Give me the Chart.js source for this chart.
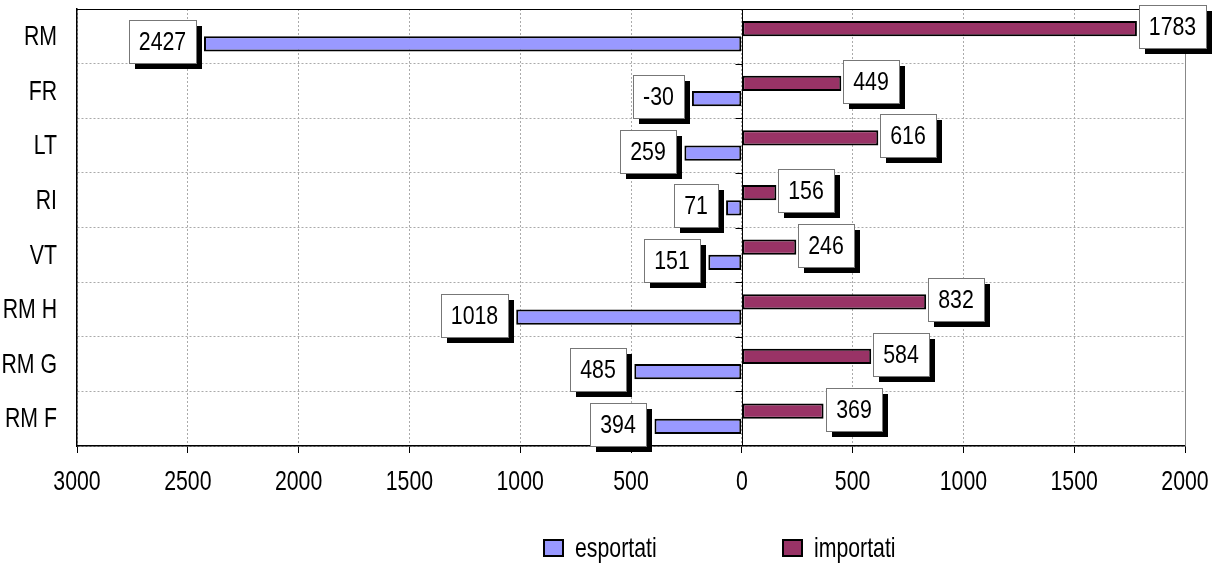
<!DOCTYPE html>
<html>
<head>
<meta charset="utf-8">
<script src="https://cdn.jsdelivr.net/npm/chart.js"></script>
<style>
  html, body { margin: 0; padding: 0; background: #fff; }
  #wrap { width: 1218px; height: 565px; }
</style>
</head>
<body>
<div id="wrap"><canvas id="barChart" width="1218" height="565"></canvas></div>
<script>
const categories = ['RM', 'FR', 'LT', 'RI', 'VT', 'RM H', 'RM G', 'RM F'];
const esportati = [-2427, -225, -259, -71, -151, -1018, -485, -394];
const esportatiLabels = ['2427', '-30', '259', '71', '151', '1018', '485', '394'];
const importati = [1783, 449, 616, 156, 246, 832, 584, 369];
const importatiLabels = ['1783', '449', '616', '156', '246', '832', '584', '369'];
const xMin = -3000, xMax = 2000, xStep = 500;

const FONT = "'Liberation Sans', Arial, sans-serif";

// niente Arial Narrow installato: stringo il testo a mano
function narrowText(ctx, txt, x, y, align, sx) {
  ctx.save();
  ctx.translate(x, y);
  ctx.scale(sx, 1);
  ctx.textAlign = align;
  ctx.fillText(txt, 0, 0);
  ctx.restore();
}

// etichette con riquadro bianco e ombra nera
const boxLabels = {
  id: 'boxLabels',
  beforeDatasetsDraw(chart) {
    const ctx = chart.ctx, a = chart.chartArea;
    const xs = chart.scales.x, ys = chart.scales.y;
    const x0 = Math.round(xs.getPixelForValue(0)) + 0.5;
    ctx.save();
    ctx.strokeStyle = '#000';
    ctx.lineWidth = 1;
    ctx.beginPath();
    ctx.moveTo(x0, a.top); ctx.lineTo(x0, a.bottom);
    for (let i = 0; i < categories.length; i++) {
      const y = Math.round(ys.getPixelForValue(i - 0.5)) + 0.5;
      ctx.moveTo(x0 - 7, y); ctx.lineTo(x0, y);
    }
    ctx.moveTo(a.left, a.top + 0.5); ctx.lineTo(a.right, a.top + 0.5);
    ctx.stroke();
    ctx.strokeStyle = '#888';
    ctx.beginPath();
    ctx.moveTo(a.right + 0.5, a.top); ctx.lineTo(a.right + 0.5, a.bottom);
    ctx.stroke();
    ctx.restore();
  },
  afterDatasetsDraw(chart) {
    const ctx = chart.ctx;
    const xs = chart.scales.x, ys = chart.scales.y;
    ctx.save();
    ctx.textBaseline = 'middle';
    ctx.fillStyle = '#000';

    // etichette degli assi
    ctx.font = '28px ' + FONT;
    for (let v = xMin; v <= xMax; v += xStep) {
      narrowText(ctx, String(Math.abs(v)), xs.getPixelForValue(v), 482, 'center', 0.76);
    }
    categories.forEach((c, i) => {
      narrowText(ctx, c, 57, ys.getPixelForValue(i) + 1, 'right', 0.76);
    });

    // legenda
    const items = [
      { text: 'esportati', color: '#9999ff', x: 544 },
      { text: 'importati', color: '#993366', x: 783 }
    ];
    const ly = 548;
    items.forEach(it => {
      ctx.fillStyle = it.color;
      ctx.fillRect(it.x, ly - 8, 19, 16);
      ctx.strokeStyle = '#000';
      ctx.lineWidth = 2;
      ctx.strokeRect(it.x, ly - 8, 19, 16);
      ctx.fillStyle = '#000';
      narrowText(ctx, it.text, it.x + 31, ly + 1, 'left', 0.76);
    });

    ctx.font = '26px ' + FONT;
    chart.data.datasets.forEach((ds, di) => {
      const meta = chart.getDatasetMeta(di);
      meta.data.forEach((bar, i) => {
        const txt = ds.boxText[i];
        const w = Math.round(ctx.measureText(txt).width * 0.82 + 20);
        const h = 43;
        const cy = bar.y - 2;
        let left;
        if (ds.data[i] >= 0) left = bar.x + 2;
        else left = bar.x - 8 - w;
        const top = Math.round(cy - h / 2);
        left = Math.round(left);
        ctx.fillStyle = '#000';
        ctx.fillRect(left + 6, top + 6, w, h);
        ctx.fillStyle = '#fff';
        ctx.fillRect(left, top, w, h);
        ctx.strokeStyle = '#777';
        ctx.lineWidth = 1;
        ctx.strokeRect(left + 0.5, top + 0.5, w, h);
        ctx.fillStyle = '#000';
        narrowText(ctx, txt, left + w / 2, top + h / 2 + 1, 'center', 0.82);
      });
    });
    ctx.restore();
  }
};

const data = {
  labels: categories,
  datasets: [
    {
      label: 'importati',
      data: importati,
      boxText: importatiLabels,
      backgroundColor: '#993366',
      borderColor: '#000',
      borderWidth: 2,
      borderSkipped: false
    },
    {
      label: 'esportati',
      data: esportati,
      boxText: esportatiLabels,
      backgroundColor: '#9999ff',
      borderColor: '#000',
      borderWidth: 2,
      borderSkipped: false
    }
  ]
};

const config = {
  type: 'bar',
  data: data,
  options: {
    indexAxis: 'y',
    responsive: false,
    animation: false,
    layout: { padding: { top: 9, right: 33, left: 0, bottom: 0 } },
    datasets: {
      bar: { categoryPercentage: 0.56, barPercentage: 1.0 }
    },
    scales: {
      x: {
        min: xMin,
        max: xMax,
        ticks: { stepSize: xStep, display: false },
        grid: { color: '#aaa', tickColor: '#000', tickLength: 7, tickBorderDash: [] },
        border: { color: '#000', width: 1.5, dash: [2, 2] },
        afterFit: s => { s.height = 119; s.paddingLeft = 0; s.paddingRight = 0; }
      },
      y: {
        ticks: { display: false },
        grid: { color: '#aaa', drawTicks: false, offset: true },
        border: { color: '#000', width: 1.5, dash: [2, 2] },
        afterFit: s => { s.width = 77; s.paddingTop = 0; s.paddingBottom = 0; }
      }
    },
    plugins: {
      legend: { display: false },
      tooltip: { enabled: true }
    }
  },
  plugins: [boxLabels]
};

window.addEventListener('DOMContentLoaded', () => {
  const ctx = document.getElementById('barChart').getContext('2d');
  new Chart(ctx, config);
});
</script>
</body>
</html>
